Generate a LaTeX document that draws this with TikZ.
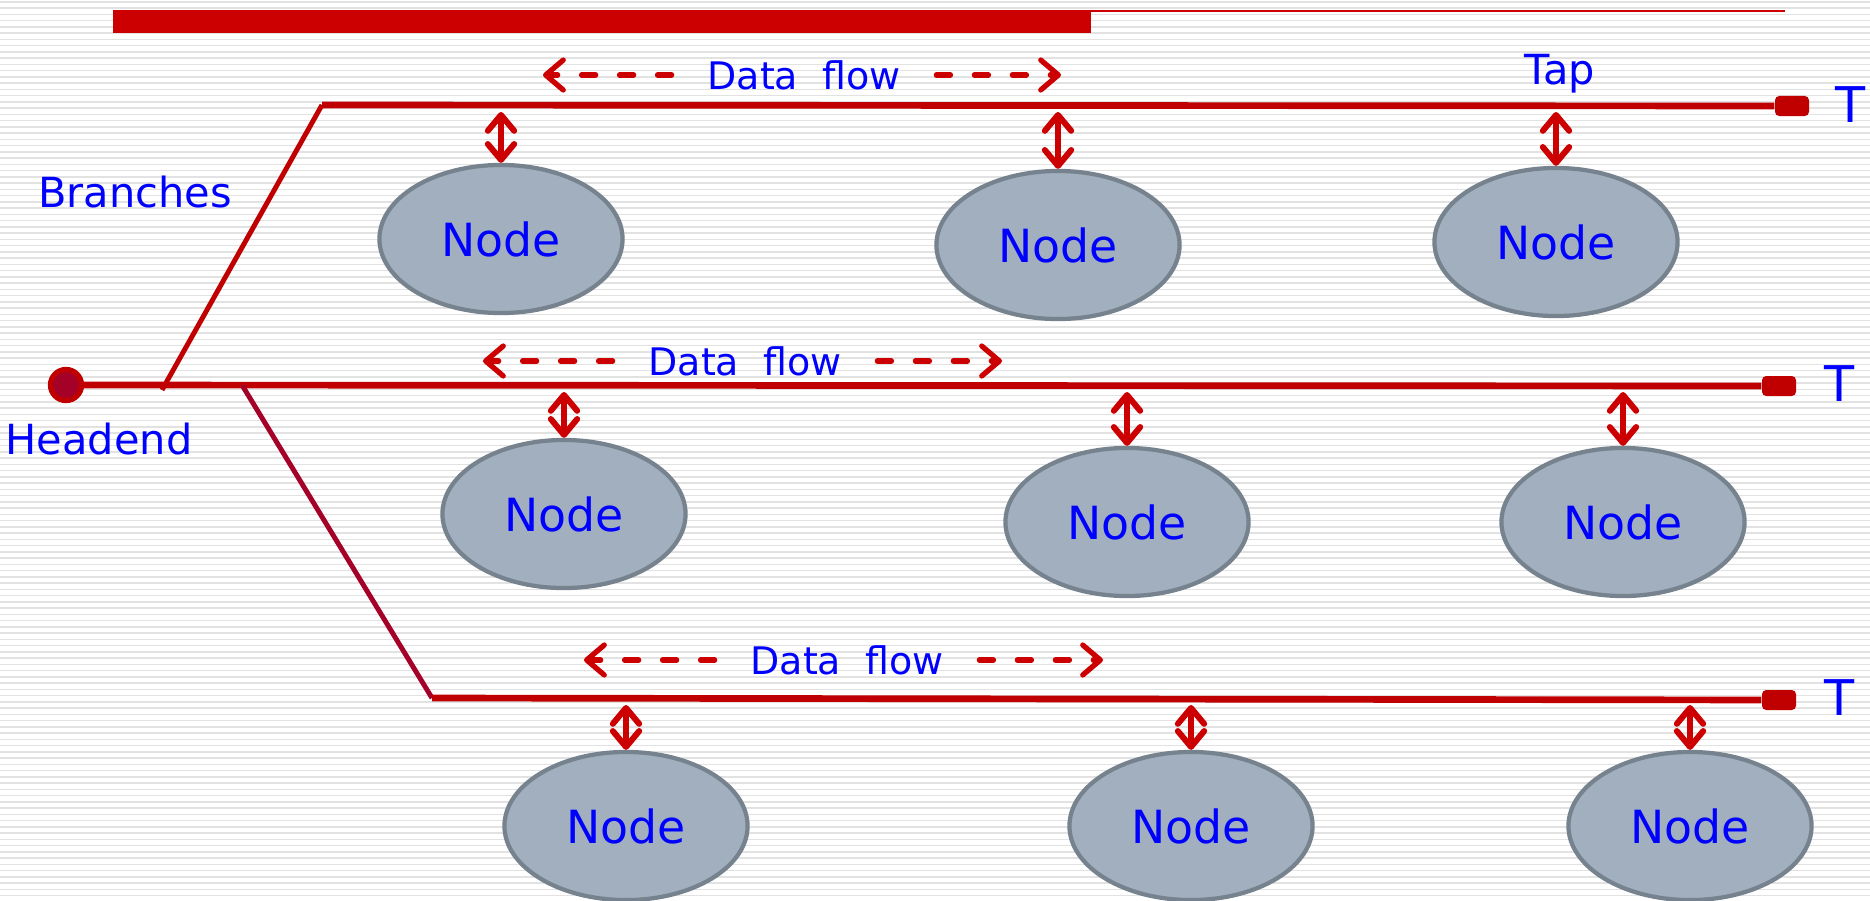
\documentclass[tikz,border=0pt]{standalone}
\usepackage{fontspec}
\setmainfont{DejaVu Sans}
\usetikzlibrary{arrows.meta,shapes.geometric}
\definecolor{netred}{RGB}{192,0,0}
\definecolor{barred}{RGB}{204,0,0}
\definecolor{darkred}{RGB}{165,0,40}
\definecolor{txtblue}{RGB}{0,0,255}
\definecolor{nodefill}{RGB}{161,175,190}
\definecolor{nodeline}{RGB}{118,130,142}
\definecolor{stripe}{RGB}{226,226,226}
\tikzset{
  host/.style={ellipse,draw=nodeline,line width=1.2pt,fill=nodefill,minimum width=2.43cm,minimum height=1.48cm,inner sep=0pt,text=txtblue,font=\fontsize{13}{15}\selectfont},
  bus/.style={netred,line width=1.9pt},
  term/.style={rectangle,rounded corners=1.2pt,fill=netred,minimum width=0.34cm,minimum height=0.2cm,inner sep=0pt},
  lbl/.style={text=txtblue,font=\fontsize{11.8}{13}\selectfont,inner sep=0pt},
  endlbl/.style={text=txtblue,font=\fontsize{14}{16}\selectfont,inner sep=0pt},
  tap/.style={barred,line width=1.7pt,{Straight Barb[round,length=4.5pt,width=7.5pt]}-{Straight Barb[round,length=4.5pt,width=7.5pt]}},
  flow/.style={barred,line width=1.5pt,line cap=round,dash pattern=on 4pt off 6.8pt,-{Straight Barb[round,length=5pt,width=8.5pt]}},
  flowtxt/.style={text=txtblue,font=\fontsize{10.8}{12}\selectfont,inner sep=0pt,inner xsep=10pt}
}
\begin{document}
\begin{tikzpicture}[x=0.01cm,y=-0.01cm]
	\useasboundingbox (0,0) rectangle (1870,900);
	\fill[white] (0,0) rectangle (1870,900);
	\foreach \i in {0,...,143}
		\fill[stripe] (0,\i*6.25+1) rectangle (1870,\i*6.25+2.6);
	\fill[barred] (113,10) rectangle (1091,33);
	\draw[barred,line width=0.6pt] (1091,11) -- (1785,11);

	\node[circle,fill=darkred,draw=netred,line width=1.5pt,minimum size=0.31cm,inner sep=0pt] (he) at (66,385) {};
	\node[term] (t1) at (1792,106) {};
	\node[term] (t2) at (1779,386) {};
	\node[term] (t3) at (1779,700) {};
	\coordinate (j1) at (162,390);
	\coordinate (c1) at (322,105);
	\coordinate (j3) at (242,385);
	\coordinate (c3) at (432,698);

	\draw[bus] (he) -- (t2);
	\draw[netred,line width=1.4pt] (j1) -- (c1);
	\draw[bus] (c1) -- (t1);
	\draw[darkred,line width=1.4pt] (j3) -- (c3);
	\draw[bus] (c3) -- (t3);

	\node[endlbl] (e1) at (1851,105) {T};
	\node[endlbl] (e2) at (1840,384) {T};
	\node[endlbl] (e3) at (1840,698) {T};
	\node[lbl] (br) at (135,192) {Branches};
	\node[lbl] (hl) at (99,439) {Headend};
	\node[lbl] (tp) at (1560,74) {Tap};

	\node[host] (n11) at (501,239) {Node};
	\node[host] (n12) at (1058,245) {Node};
	\node[host] (n13) at (1556,242) {Node};
	\node[host] (n21) at (564,514) {Node};
	\node[host] (n22) at (1127,522) {Node};
	\node[host] (n23) at (1623,522) {Node};
	\node[host] (n31) at (626,826) {Node};
	\node[host] (n32) at (1191,826) {Node};
	\node[host] (n33) at (1690,826) {Node};

	\foreach \n/\b in {n11/c1,n12/c1,n13/c1,n21/he,n22/he,n23/he,n31/c3,n32/c3,n33/c3}
		\draw[tap] ([yshift=-0.7mm]\n.north |- \b) -- (\n.north);

	\node[flowtxt] (d1) at (804,75) {Data\ \ flow};
	\node[flowtxt] (d2) at (745,361) {Data\ \ flow};
	\node[flowtxt] (d3) at (847,660) {Data\ \ flow};
	\coordinate (d1l) at (543,75);
	\coordinate (d1r) at (1061,75);
	\coordinate (d2l) at (483,361);
	\coordinate (d2r) at (1002,361);
	\coordinate (d3l) at (584,660);
	\coordinate (d3r) at (1103,660);
	\foreach \d in {d1,d2,d3} {
		\draw[flow] (\d) -- (\d l);
		\draw[flow] (\d) -- (\d r);
	}
\end{tikzpicture}
\end{document}
